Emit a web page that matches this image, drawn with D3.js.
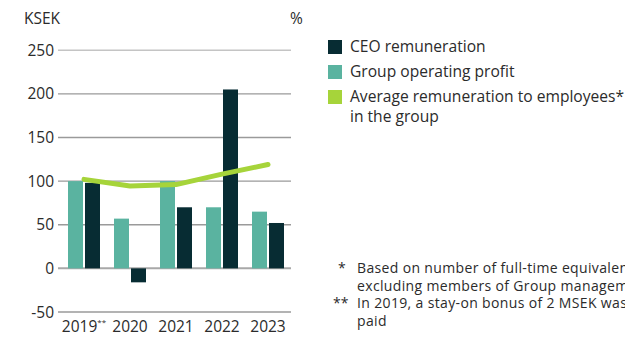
<!DOCTYPE html>
<html>
<head>
<meta charset="utf-8">
<script src="https://cdn.jsdelivr.net/npm/d3@7/dist/d3.min.js"></script>
<style>
  html, body { margin: 0; padding: 0; background: #fff; overflow: hidden; }
  svg { display: block; font-family: "Open Sans", "Noto Sans", sans-serif; }
</style>
</head>
<body>
<svg id="chart" width="625" height="337"></svg>
<script>
// Index values per year
const years = ["2019", "2020", "2021", "2022", "2023"];
const yearSuffix = ["**", "", "", "", ""];
const operatingProfit = [100, 57, 100, 70, 65];
const ceoRemuneration = [98, -16, 70, 205, 52];
const avgRemuneration = [102, 94.5, 96, 108, 119];
const yTicks = [-50, 0, 50, 100, 150, 200, 250];

const legendItems = [
  { label: ["CEO remuneration"], color: "#072c33" },
  { label: ["Group operating profit"], color: "#5ab3a0" },
  { label: ["Average remuneration to employees*", "in the group"], color: "#a6d43a" }
];
const footnotes = [
  { mark: "*", lines: ["Based on number of full-time equivalents,", "excluding members of Group management"] },
  { mark: "**", lines: ["In 2019, a stay-on bonus of 2 MSEK was", "paid"] }
];

const svg = d3.select("#chart");
const textColor = "#2b2b2b";

const x = d3.scaleBand().domain(years).range([61, 291]).paddingInner(0).paddingOuter(0);
const y = d3.scaleLinear().domain([-50, 250]).range([312, 50.2]);
const barW = 15, barGap = 2;

// Gridlines
svg.append("g").selectAll("line")
  .data(yTicks)
  .join("line")
  .attr("x1", 58).attr("x2", 291)
  .attr("y1", d => y(d)).attr("y2", d => y(d))
  .attr("stroke", d => d === 250 ? "#c4c4c4" : (d === 0 ? "#a8a8a8" : "#9a9a9a"))
  .attr("stroke-width", d => d === 0 ? 2 : 1.4);

// Y tick labels
svg.append("g").selectAll("text")
  .data(yTicks)
  .join("text")
  .attr("x", 54).attr("y", d => y(d))
  .attr("dy", "0.36em")
  .attr("text-anchor", "end")
  .attr("font-size", 15.5)
  .attr("fill", textColor)
  .text(d => d);

svg.append("text").attr("x", 24).attr("y", 24).attr("font-size", 15.5).attr("fill", textColor).text("KSEK");
svg.append("text").attr("x", 290).attr("y", 24).attr("font-size", 15.5).attr("fill", textColor).text("%");

const cx = d => x(d) + x.bandwidth() / 2;

// Operating profit bars (left of pair)
svg.append("g").selectAll("rect")
  .data(years)
  .join("rect")
  .attr("x", d => cx(d) - barW - barGap / 2)
  .attr("width", barW)
  .attr("y", (d, i) => y(Math.max(0, operatingProfit[i])))
  .attr("height", (d, i) => Math.abs(y(operatingProfit[i]) - y(0)))
  .attr("fill", "#5ab3a0");

// CEO remuneration bars (right of pair)
svg.append("g").selectAll("rect")
  .data(years)
  .join("rect")
  .attr("x", d => cx(d) + barGap / 2)
  .attr("width", barW)
  .attr("y", (d, i) => y(Math.max(0, ceoRemuneration[i])))
  .attr("height", (d, i) => Math.abs(y(ceoRemuneration[i]) - y(0)))
  .attr("fill", "#072c33");

// Average remuneration line
const line = d3.line()
  .x((d, i) => cx(years[i]))
  .y(d => y(d));
svg.append("path")
  .datum(avgRemuneration)
  .attr("d", line)
  .attr("fill", "none")
  .attr("stroke", "#a6d43a")
  .attr("stroke-width", 5)
  .attr("stroke-linecap", "round")
  .attr("stroke-linejoin", "round");

// X labels
const xl = svg.append("g").selectAll("text")
  .data(years)
  .join("text")
  .attr("x", d => cx(d))
  .attr("y", 332)
  .attr("text-anchor", "middle")
  .attr("font-size", 15.5)
  .attr("fill", textColor);
xl.append("tspan").text(d => d);
xl.append("tspan")
  .attr("font-size", 8)
  .attr("dy", -7)
  .text((d, i) => yearSuffix[i]);

// Legend
const lg = svg.append("g").selectAll("g")
  .data(legendItems)
  .join("g")
  .attr("transform", (d, i) => `translate(328, ${40 + i * 25})`);
lg.append("rect").attr("width", 14).attr("height", 14).attr("fill", d => d.color);
lg.each(function(d) {
  d.label.forEach((s, j) => d3.select(this).append("text")
    .attr("x", 22).attr("y", 12 + j * 20)
    .attr("font-size", 15.6)
    .attr("fill", textColor)
    .text(s));
});

// Footnotes
const fn = svg.append("g").selectAll("g")
  .data(footnotes)
  .join("g")
  .attr("transform", (d, i) => `translate(0, ${273 + i * 35})`);
fn.append("text")
  .attr("x", d => d.mark.length > 1 ? 333 : 338)
  .attr("font-size", 14)
  .attr("fill", textColor)
  .text(d => d.mark);
fn.each(function(d) {
  d.lines.forEach((s, j) => d3.select(this).append("text")
    .attr("x", 357).attr("y", j * 17.5)
    .attr("font-size", 14)
    .attr("letter-spacing", 0.35)
    .attr("fill", textColor)
    .text(s));
});
</script>
</body>
</html>
